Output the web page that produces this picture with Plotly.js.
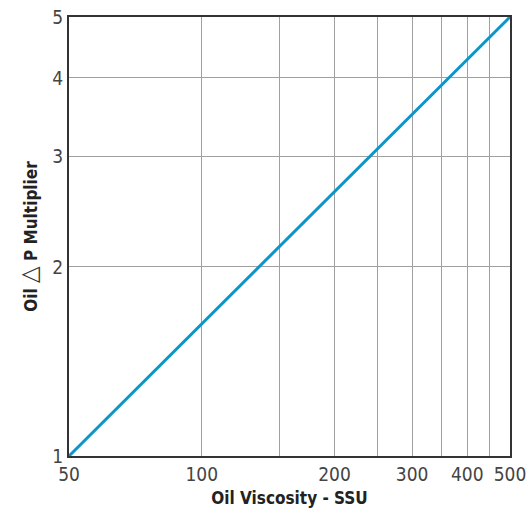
<!DOCTYPE html>
<html>
<head>
<meta charset="utf-8">
<script src="https://cdn.plot.ly/plotly-3.0.1.min.js"></script>
<style>html,body{margin:0;padding:0;background:#fff;}#chart{width:529px;height:512px;}</style>
</head>
<body>
<div id="chart"></div>
<script>
var viscosity = [50, 500];
var multiplier = [1, 5];
var xTickVals = [50, 100, 150, 200, 250, 300, 350, 400, 450, 500];
var xTickText = ['50', '100', '', '200', '', '300', '', '400', '', '500'];
var yTickVals = [1, 2, 3, 4, 5];
var yTickText = ['1', '2', '3', '4', '5'];

var FONT = '"DejaVu Sans Condensed", "Liberation Sans Narrow", sans-serif';

var trace = {
  x: viscosity,
  y: multiplier,
  type: 'scatter',
  mode: 'lines',
  line: {color: '#0a96cb', width: 3},
  hoverinfo: 'skip'
};

var layout = {
  width: 529,
  height: 512,
  margin: {l: 69, r: 19, t: 17, b: 56},
  paper_bgcolor: '#fff',
  plot_bgcolor: '#fff',
  showlegend: false,
  font: {family: FONT, color: '#333'},
  xaxis: {
    type: 'log',
    range: [Math.log10(50), Math.log10(500)],
    tickmode: 'array',
    tickvals: xTickVals,
    ticktext: xTickText,
    ticks: '',
    showgrid: true,
    gridcolor: '#a0a0a0',
    gridwidth: 1,
    showline: true,
    mirror: true,
    linecolor: '#333',
    linewidth: 2,
    zeroline: false,
    tickfont: {family: FONT, size: 19, color: '#444'},
    title: {text: '<b>Oil Viscosity - SSU</b>', font: {family: FONT, size: 17, color: '#222'}, standoff: 8}
  },
  yaxis: {
    type: 'log',
    range: [0, Math.log10(5)],
    tickmode: 'array',
    tickvals: yTickVals,
    ticktext: yTickText,
    ticks: '',
    showgrid: true,
    gridcolor: '#a0a0a0',
    gridwidth: 1,
    showline: true,
    mirror: true,
    linecolor: '#333',
    linewidth: 2,
    zeroline: false,
    tickfont: {family: FONT, size: 19, color: '#444'},
    title: {text: '<b>Oil </b><span style="font-size:24px;color:#333">△</span><b> P Multiplier</b>', font: {family: FONT, size: 17, color: '#222'}, standoff: 10}
  }
};

Plotly.newPlot('chart', [trace], layout, {displayModeBar: false, staticPlot: true});
</script>
</body>
</html>
